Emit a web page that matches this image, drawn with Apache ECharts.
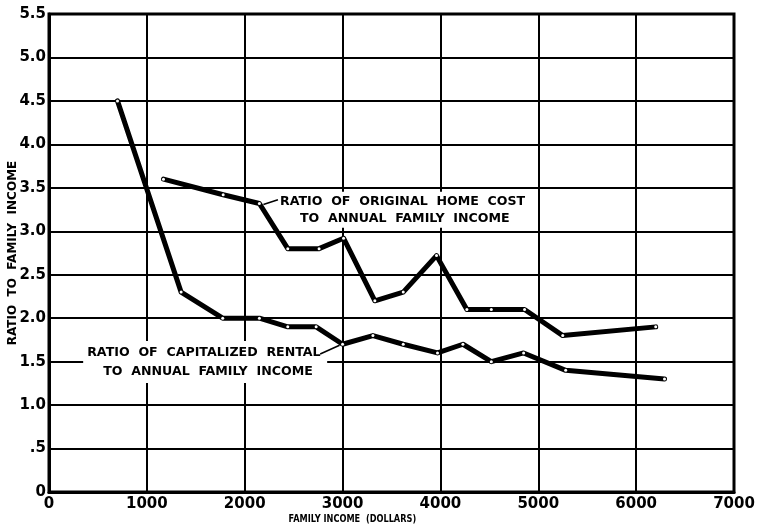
<!DOCTYPE html>
<html><head><meta charset="utf-8">
<script src="https://cdn.jsdelivr.net/npm/echarts@6/dist/echarts.min.js"></script>
<style>html,body{margin:0;padding:0;background:#fff}#c{width:762px;height:528px}</style>
</head><body><div id="c"></div>
<script>
// Data
const rentalIncome = [700,1350,1775,2150,2440,2730,3000,3310,3620,3970,4230,4520,4850,5280,6290];
const rentalRatio  = [4.5,2.3,2.0,2.0,1.9,1.9,1.7,1.8,1.7,1.6,1.7,1.5,1.6,1.4,1.3];
const homeIncome   = [1170,1780,2150,2440,2760,3010,3330,3620,3960,4270,4520,4860,5250,6200];
const homeRatio    = [3.6,3.42,3.32,2.8,2.8,2.92,2.2,2.3,2.72,2.1,2.1,2.1,1.8,1.9];
const xTicks = [0,1000,2000,3000,4000,5000,6000,7000];
const yTicks = [0,0.5,1,1.5,2,2.5,3,3.5,4,4.5,5,5.5];
const homeLabel = ['RATIO  OF  ORIGINAL  HOME  COST','TO  ANNUAL  FAMILY  INCOME'];
const rentalLabel = ['RATIO  OF  CAPITALIZED  RENTAL','TO  ANNUAL  FAMILY  INCOME'];
const xTitle = 'FAMILY INCOME  (DOLLARS)';
const yTitle = 'RATIO  TO  FAMILY  INCOME';

const FONT = '"DejaVu Sans", sans-serif';
const chart = echarts.init(document.getElementById('c'), null, {renderer:'canvas'});
const zip = (a,b)=>a.map((v,i)=>[v,b[i]]);
const lineSeries = (data)=>({
  type:'line', data, smooth:false, z:3,
  lineStyle:{color:'#000', width:5, join:'round', cap:'round'},
  symbol:'circle', symbolSize:3, showSymbol:true,
  itemStyle:{color:'#fff', borderWidth:0},
  emphasis:{disabled:true}, animation:false
});
chart.setOption({
  animation:false,
  backgroundColor:'#fff',
  grid:{left:49, right:28, top:14, bottom:36, outerBoundsMode:'none', containLabel:false,
    show:true, borderColor:'#000', borderWidth:3, backgroundColor:'transparent'},
  xAxis:{type:'value', min:xTicks[0], max:xTicks[xTicks.length-1], interval:1000,
    axisLine:{show:true, lineStyle:{color:'#000', width:3}},
    axisTick:{show:false},
    axisLabel:{fontFamily:FONT, fontWeight:'bold', fontSize:15, color:'#000', margin:5,
      formatter:v=>String(v)},
    splitLine:{show:true, lineStyle:{color:'#000', width:2}}},
  yAxis:{type:'value', min:yTicks[0], max:yTicks[yTicks.length-1], interval:0.5,
    name:yTitle, nameLocation:'middle', nameGap:30, nameRotate:90, nameMoveOverlap:false,
    nameTextStyle:{fontFamily:FONT, fontWeight:'bold', fontSize:12, color:'#000'},
    axisLine:{show:true, lineStyle:{color:'#000', width:3}},
    axisTick:{show:false},
    axisLabel:{fontFamily:FONT, fontWeight:'bold', fontSize:15, color:'#000', margin:3,
      formatter:v=> v===0 ? '0' : (v===0.5 ? '.5' : v.toFixed(1))},
    splitLine:{show:true, lineStyle:{color:'#000', width:2}}},
  series:[lineSeries(zip(rentalIncome,rentalRatio)), lineSeries(zip(homeIncome,homeRatio))]
});

// Annotations positioned from data coordinates
const px = (x,y)=>chart.convertToPixel({gridIndex:0},[x,y]);
const hp = px(2150,3.32);
const hTxt = px(2360,3.34);   // left edge / first line middle
const rp = px(3000,1.7);
const rTxt = px(390,1.6);
const axisBottom = px(0,0);
const tStyle = {fontFamily:FONT, fontWeight:'bold', fontSize:12.6, fill:'#000'};
const graphics = [
  {type:'rect', z:1, shape:{x:hTxt[0]-5, y:hTxt[1]-10, width:256, height:36}, style:{fill:'#fff'}},
  {type:'text', z:5, x:hTxt[0], y:hTxt[1], style:Object.assign({text:homeLabel[0], textVerticalAlign:'middle'},tStyle)},
  {type:'text', z:5, x:hTxt[0]+20, y:hTxt[1]+16.5, style:Object.assign({text:homeLabel[1], textVerticalAlign:'middle'},tStyle)},
  {type:'line', z:5, shape:{x1:hp[0]+4, y1:hp[1]+1, x2:hTxt[0]-2, y2:hTxt[1]-2}, style:{stroke:'#000', lineWidth:1.5}},
  {type:'rect', z:1, shape:{x:rTxt[0]-4, y:rTxt[1]-12, width:244, height:42}, style:{fill:'#fff'}},
  {type:'text', z:5, x:rTxt[0], y:rTxt[1], style:Object.assign({text:rentalLabel[0], textVerticalAlign:'middle'},tStyle)},
  {type:'text', z:5, x:rTxt[0]+16, y:rTxt[1]+19, style:Object.assign({text:rentalLabel[1], textVerticalAlign:'middle'},tStyle)},
  {type:'line', z:5, shape:{x1:rTxt[0]+233, y1:rTxt[1]+1, x2:rp[0]-3, y2:rp[1]+1}, style:{stroke:'#000', lineWidth:1.5}},
  {type:'text', z:5, x:px(3100,0)[0], y:axisBottom[1]+27, scaleX:0.82,
    style:{text:xTitle, fontFamily:FONT, fontWeight:'bold', fontSize:10, fill:'#000', textAlign:'center', textVerticalAlign:'middle'}}
];
chart.setOption({graphic:{elements:graphics}});
</script></body></html>
